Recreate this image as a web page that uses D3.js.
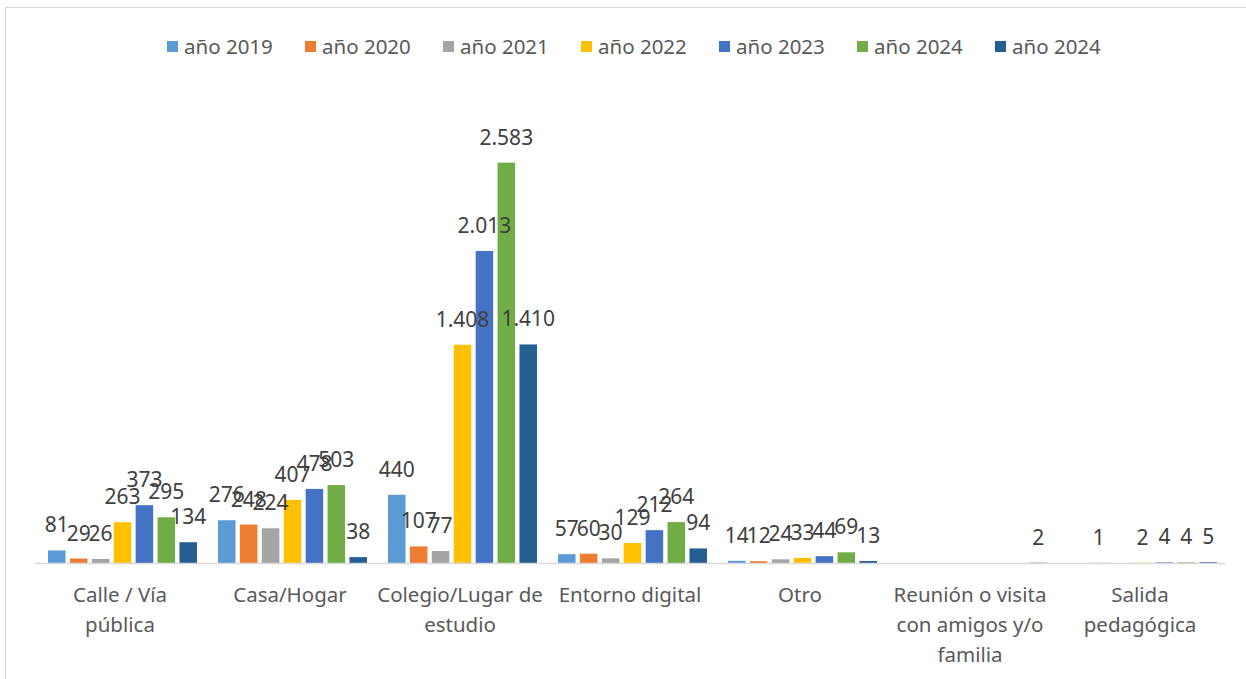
<!DOCTYPE html>
<html>
<head>
<meta charset="utf-8">
<script src="https://cdn.jsdelivr.net/npm/d3@7"></script>
<style>
  body { margin: 0; background: #fff; }
  svg { display: block; }
</style>
</head>
<body>
<div class="chart"></div>
<script>
// chart data
var categories = [
  ['Calle / Vía', 'pública'],
  ['Casa/Hogar'],
  ['Colegio/Lugar de', 'estudio'],
  ['Entorno digital'],
  ['Otro'],
  ['Reunión o visita', 'con amigos y/o', 'familia'],
  ['Salida', 'pedagógica']
];
var seriesNames = ['año 2019', 'año 2020', 'año 2021', 'año 2022', 'año 2023', 'año 2024', 'año 2024'];
var seriesColors = ['#5B9BD5', '#ED7D31', '#A5A5A5', '#FFC000', '#4472C4', '#70AD47', '#255E91'];
// one row per category, one value per series (null = no bar)
var values = [
  [81, 29, 26, 263, 373, 295, 134],
  [276, 248, 224, 407, 478, 503, 38],
  [440, 107, 77, 1408, 2013, 2583, 1410],
  [57, 60, 30, 129, 212, 264, 94],
  [14, 12, 24, 33, 44, 69, 13],
  [null, null, null, null, null, null, 2],
  [null, 1, null, 2, 4, 4, 5]
];

var W = 1246, H = 679;
var FONT = 'Noto Sans, sans-serif';
var svg = d3.select('.chart').append('svg').attr('width', W).attr('height', H);

// outer frame
svg.append('rect').attr('x', 5.5).attr('y', 7.5).attr('width', 1300).attr('height', 700)
  .attr('fill', 'none').attr('stroke', '#d9d9d9');

var x0 = d3.scaleBand().domain(d3.range(categories.length)).range([35, 1225]);
var x1 = d3.scaleBand().domain(d3.range(seriesNames.length)).range([13, x0.bandwidth() - 8]).paddingInner(0.2);
var y = d3.scaleLinear().domain([0, 3000]).range([563, 98]);

var fmt = function(v) { return d3.format(',')(v).replace(/,/g, '.'); };

var groups = svg.selectAll('.grp').data(values).enter().append('g')
  .attr('class', 'grp')
  .attr('transform', function(d, i) { return 'translate(' + x0(i) + ',0)'; });

var cells = groups.selectAll('.cell')
  .data(function(d) { return d.map(function(v, j) { return { v: v, s: j }; }).filter(function(c) { return c.v !== null; }); })
  .enter();

cells.append('rect')
  .attr('x', function(d) { return x1(d.s); })
  .attr('width', x1.bandwidth())
  .attr('y', function(d) { return y(d.v); })
  .attr('height', function(d) { return y(0) - y(d.v); })
  .attr('fill', function(d) { return seriesColors[d.s]; });

cells.append('text')
  .attr('x', function(d) { return x1(d.s) + x1.bandwidth() / 2; })
  .attr('y', function(d) { return y(d.v) - 18; })
  .attr('text-anchor', 'middle')
  .attr('font-family', FONT)
  .attr('font-size', 21)
  .attr('fill', '#404040')
  .text(function(d) { return fmt(d.v); });

// category axis
svg.append('line').attr('x1', 35).attr('x2', 1225).attr('y1', 563.5).attr('y2', 563.5)
  .attr('stroke', '#d9d9d9').attr('stroke-width', 1.5);

svg.selectAll('.cat').data(categories).enter().append('text')
  .attr('class', 'cat')
  .attr('text-anchor', 'middle')
  .attr('font-family', FONT)
  .attr('font-size', 20.5)
  .attr('fill', '#595959')
  .each(function(d, i) {
    var t = d3.select(this);
    d.forEach(function(line, k) {
      t.append('tspan').attr('x', x0(i) + x0.bandwidth() / 2).attr('y', 602 + k * 30).text(line);
    });
  });

// legend
var legend = svg.selectAll('.leg').data(seriesNames).enter().append('g')
  .attr('class', 'leg')
  .attr('transform', function(d, i) { return 'translate(' + (167 + i * 138) + ',41)'; });
legend.append('rect').attr('width', 11).attr('height', 11)
  .attr('fill', function(d, i) { return seriesColors[i]; });
legend.append('text').attr('x', 17).attr('y', 12.5)
  .attr('font-family', FONT)
  .attr('font-size', 20.5)
  .attr('fill', '#595959')
  .text(function(d) { return d; });
</script>
</body>
</html>
